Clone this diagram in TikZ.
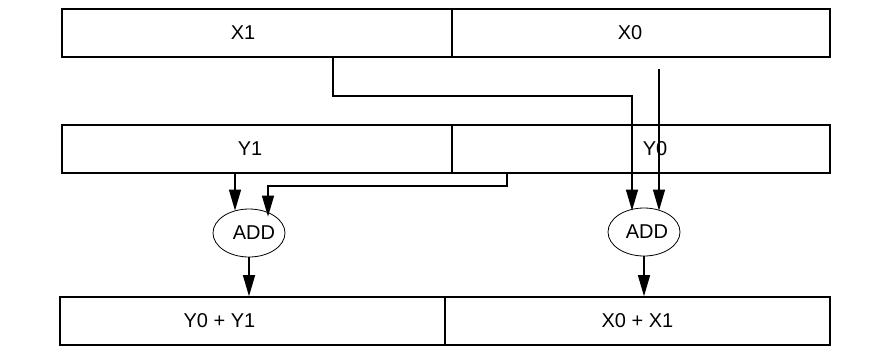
\documentclass[tikz,border=0pt]{standalone}
\usepackage{fontspec}
\setmainfont{Liberation Sans}
\usetikzlibrary{shapes.geometric,arrows.meta}
\begin{document}
\begin{tikzpicture}[x=1pt,y=-1pt,>={Triangle[length=21pt,width=12pt]}]
		\tikzstyle{every node}=[font=\fontsize{20}{22}\selectfont,inner sep=0pt];
		\tikzstyle{reg}=[draw,line width=1.6pt,minimum height=48pt];
		\tikzstyle{alu}=[draw,ellipse,line width=0.8pt,minimum width=72pt,minimum height=48pt];
		\tikzstyle{wire}=[line width=1.3pt];
		\useasboundingbox (0,0) rectangle (885,360);
		% registers
		\node[reg,minimum width=390pt,label={[xshift=-14pt]center:X1}] (x1) at (257,33) {};
		\node[reg,minimum width=378pt,label={[xshift=-11pt]center:X0}] (x0) at (641,33) {};
		\node[reg,minimum width=390pt,label={[xshift=-7pt]center:Y1}] (y1) at (257,149) {};
		\node[reg,minimum width=378pt,label={[xshift=14pt]center:Y0}] (y0) at (641,149) {};
		\node[reg,minimum width=385pt,label={[xshift=-33pt]center:Y0 + Y1}] (s1) at (252.5,321) {};
		\node[reg,minimum width=385pt] (s0) at (637.5,321) {X0 + X1};
		% adders
		\node[alu,label={[xshift=5pt]center:ADD}] (add1) at (249,233) {};
		\node[alu,label={[xshift=3pt]center:ADD}] (add0) at (644,232) {};
		% wires
		\coordinate (x0tap) at (659,69);
		\draw[wire,->,shorten >=-3pt] (333,0 |- x1.south) |- (632,96) -- (632,0 |- add0.north);
		\draw[wire,->,shorten >=-3pt] (x0tap) -- (x0tap |- add0.north);
		\draw[wire,->,shorten >=-2pt] (235,0 |- y1.south) -- (235,0 |- add1.north);
		\draw[wire,->,shorten >=-8pt] (507,0 |- y0.south) |- (268,186) -- (268,0 |- add1.north);
		\draw[wire,->] (add1.south) -- (add1.south |- s1.north);
		\draw[wire,->] (add0.south) -- (add0.south |- s0.north);
\end{tikzpicture}
\end{document}
